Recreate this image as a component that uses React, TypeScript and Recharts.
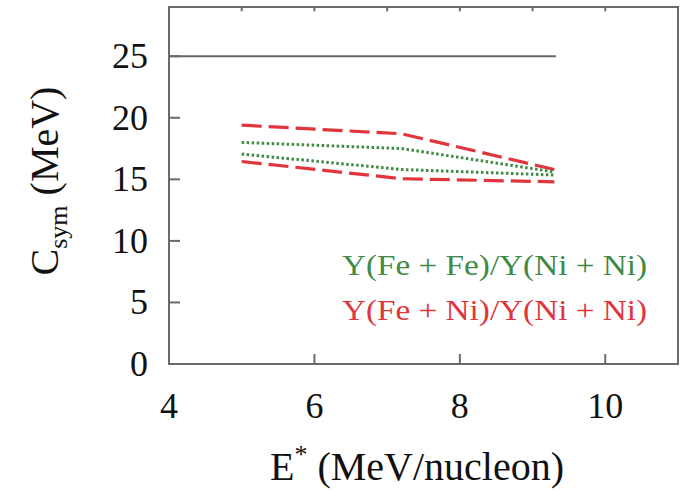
import React from 'react';
import { LineChart, Line, XAxis, YAxis, ReferenceArea } from 'recharts';

// Excitation energy E* (MeV/nucleon) at which the bands are evaluated
const energies = [5.0, 7.2, 9.3];
// Y(Fe+Fe)/Y(Ni+Ni) band (green dotted)
const greenUpper = [18.0, 17.5, 15.6];
const greenLower = [17.05, 15.8, 15.35];
// Y(Fe+Ni)/Y(Ni+Ni) band (red dashed)
const redUpper = [19.4, 18.7, 15.8];
const redLower = [16.45, 15.05, 14.8];
// Reference horizontal line at 25 MeV
const refEnergies = [4, 9.32];
const refValues = [25, 25];

const xDomain = [4, 11];
const yDomain = [0, 29];
const xTicks = [4, 6, 8, 10];
const xMinorTicks = [5, 6, 7, 8, 9, 10];
const yTicks = [0, 5, 10, 15, 20, 25];
const legendLabels = ['Y(Fe + Fe)/Y(Ni + Ni)', 'Y(Fe + Ni)/Y(Ni + Ni)'];

const toSeries = (xs: number[], ys: number[]) => xs.map((e, i) => ({ e, c: ys[i] }));

// frame (top + right edges) and minor ticks on the top edge, in data units
const frameSeries = toSeries([xDomain[0], xDomain[1], xDomain[1]], [yDomain[1], yDomain[1], yDomain[0]]);
const topTickSeries = xMinorTicks.map((t) => toSeries([t, t], [yDomain[1], yDomain[1] - 0.35]));

const FONT = 'Liberation Serif, Times New Roman, serif';
const AXIS = '#6a6a6a';
const GREEN = '#3f8a45';
const RED = '#e0353c';

const YTick = (props: any) => {
  const { x, y, payload } = props;
  return (
    <g>
      {payload.value !== 0 && (
        <line x1={x} x2={x + 11} y1={y} y2={y} stroke={AXIS} strokeWidth={2} />
      )}
      <text x={x - 21} y={y + 12} textAnchor="end" fontSize={36} fontFamily={FONT} fill="#111">
        {payload.value}
      </text>
    </g>
  );
};

const XTick = (props: any) => {
  const { x, y, payload } = props;
  return (
    <g>
      {payload.value !== 4 && (
        <line x1={x} x2={x} y1={y} y2={y - 10} stroke={AXIS} strokeWidth={2} />
      )}
      <text x={x} y={y + 54} textAnchor="middle" fontSize={36} fontFamily={FONT} fill="#111">
        {payload.value}
      </text>
    </g>
  );
};

// x-axis title plus the in-plot legend texts
const XTitle = () => (
  <g>
    <text x={417} y={480} textAnchor="middle" fontSize={40} fontFamily={FONT} fill="#111">
      E
      <tspan fontSize={26} dy={-17}>*</tspan>
      <tspan dy={17}> (MeV/nucleon)</tspan>
    </text>
    <text x={342} y={275} fontSize={30} fontFamily={FONT} fill={GREEN} textLength={305} lengthAdjust="spacingAndGlyphs">
      {legendLabels[0]}
    </text>
    <text x={342} y={320} fontSize={30} fontFamily={FONT} fill={RED} textLength={305} lengthAdjust="spacingAndGlyphs">
      {legendLabels[1]}
    </text>
  </g>
);

const YTitle = () => (
  <text
    x={58}
    y={181}
    transform="rotate(-90, 58, 181)"
    textAnchor="middle"
    fontSize={40}
    fontFamily={FONT}
    fill="#111"
  >
    C
    <tspan fontSize={26} dy={9}>sym</tspan>
    <tspan dy={-9}> (MeV)</tspan>
  </text>
);

const lineCommon = {
  dataKey: 'c',
  dot: false,
  activeDot: false,
  isAnimationActive: false,
};

export default function App() {
  return (
    <div style={{ position: 'absolute', left: 0, top: 0, background: '#fff' }}>
      <LineChart
        width={694}
        height={490}
        margin={{ top: 7, right: 16, bottom: 96, left: 109 }}
      >
        <XAxis
          dataKey="e"
          type="number"
          domain={xDomain}
          ticks={xTicks}
          interval={0}
          height={30}
          tickSize={0}
          tickMargin={0}
          tickLine={false}
          axisLine={{ stroke: AXIS, strokeWidth: 2 }}
          tick={<XTick />}
          label={{ content: () => <XTitle /> }}
        />
        <YAxis
          type="number"
          domain={yDomain}
          ticks={yTicks}
          interval={0}
          width={60}
          tickSize={0}
          tickMargin={0}
          tickLine={false}
          axisLine={{ stroke: AXIS, strokeWidth: 2 }}
          tick={<YTick />}
          label={{ content: () => <YTitle /> }}
        />
        <ReferenceArea
          x1={xDomain[0]}
          x2={xDomain[1]}
          y1={yDomain[0]}
          y2={yDomain[1]}
          fill="none"
          fillOpacity={0}
          stroke={AXIS}
          strokeWidth={2}
          ifOverflow="visible"
        />
        <Line {...lineCommon} data={frameSeries} stroke={AXIS} strokeWidth={2} />
        {topTickSeries.map((s, i) => (
          <Line key={'tt' + i} {...lineCommon} data={s} stroke={AXIS} strokeWidth={2} />
        ))}
        <Line {...lineCommon} data={toSeries(refEnergies, refValues)} stroke="#666" strokeWidth={2} />
        <Line {...lineCommon} data={toSeries(energies, redUpper)} stroke={RED} strokeWidth={3.2} strokeDasharray="20 7" />
        <Line {...lineCommon} data={toSeries(energies, redLower)} stroke={RED} strokeWidth={3.2} strokeDasharray="20 7" />
        <Line {...lineCommon} data={toSeries(energies, greenUpper)} stroke={GREEN} strokeWidth={3} strokeDasharray="2.5 2.5" />
        <Line {...lineCommon} data={toSeries(energies, greenLower)} stroke={GREEN} strokeWidth={3} strokeDasharray="2.5 2.5" />
      </LineChart>
    </div>
  );
}
